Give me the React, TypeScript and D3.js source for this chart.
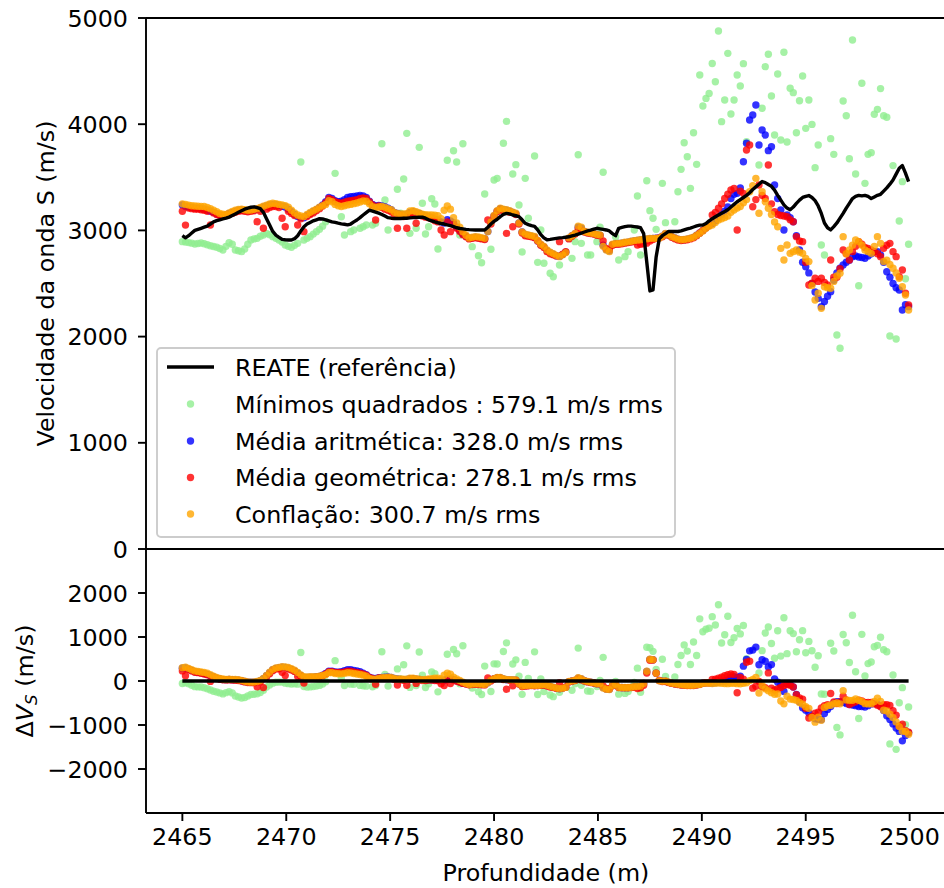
import React from 'react';
import * as d3 from 'd3';

// Logs sampled every 0.15 m from 2465 m
const depthStart = 2465;
const depthStep = 0.15;

// Reference S-wave velocity (REATE), m/s
const reate: number[] = [
  2950, 2930, 2950, 2975, 3000, 3010, 3020, 3030, 3040, 3060,
  3080, 3092, 3100, 3108, 3115, 3125, 3140, 3155, 3170, 3185,
  3200, 3210, 3218, 3222, 3215, 3205, 3170, 3110, 3050, 2990,
  2955, 2935, 2915, 2912, 2910, 2910, 2922, 2950, 2995, 3035,
  3060, 3075, 3090, 3100, 3110, 3108, 3100, 3090, 3080, 3075,
  3068, 3062, 3058, 3052, 3060, 3080, 3098, 3120, 3145, 3168,
  3190, 3182, 3172, 3162, 3150, 3135, 3120, 3115, 3112, 3112,
  3112, 3114, 3115, 3118, 3120, 3122, 3124, 3125, 3115, 3100,
  3090, 3080, 3072, 3065, 3060, 3052, 3045, 3035, 3025, 3018,
  3014, 3010, 3007, 3005, 3004, 3004, 3004, 3004, 3030, 3060,
  3085, 3105, 3130, 3150, 3160, 3155, 3145, 3138, 3130, 3100,
  3067, 3055, 3045, 3038, 3005, 2960, 2930, 2912, 2915, 2920,
  2925, 2930, 2932, 2936, 2940, 2948, 2955, 2965, 2975, 2985,
  2995, 3003, 3012, 3020, 3015, 3010, 3004, 2995, 2970, 2950,
  3020, 3028, 3035, 3040, 3040, 3036, 3032, 3025, 2970, 2700,
  2430, 2440, 2750, 2920, 2950, 2970, 2990, 2990, 2990, 2990,
  2995, 3005, 3015, 3022, 3032, 3042, 3050, 3050, 3065, 3090,
  3110, 3128, 3145, 3162, 3178, 3195, 3220, 3245, 3270, 3290,
  3310, 3330, 3355, 3385, 3410, 3435, 3460, 3450, 3432, 3415,
  3380, 3330, 3285, 3240, 3210, 3195, 3220, 3255, 3285, 3310,
  3320, 3328, 3310, 3280, 3230, 3160, 3070, 3025, 3005, 3035,
  3070, 3115, 3160, 3210, 3255, 3300, 3320, 3330, 3325, 3330,
  3320, 3300, 3315, 3330, 3340, 3370, 3400, 3435, 3475, 3530,
  3585, 3610, 3540, 3460,
];

// Least-squares estimate (null where no estimate is plotted)
const minimosQuadrados: (number | null)[] = [
  2894, 2890, 2885, 2880, 2872, 2876, 2882, 2875, 2865, 2855,
  2848, 2841, 2830, 2815, 2850, 2884, 2870, 2815, 2808, 2800,
  2825, 2870, 2910, 2920, 2925, 2945, 2957, 2972, 2960, 2941,
  2925, 2910, 2890, 2863, 2850, 2841, 2860, 2878, 3644, 2910,
  2925, 2941, 2965, 2988, 3010, 3040, 3082, null, null, 3537,
  null, 3129, 2957, null, 2988, 3004, null, 3020, 3035, 3051,
  null, 3051, 3067, null, 3816, 3286, 3004, null, null, 3387,
  3161, 3484, 3914, 2972, null, 3020, 3782, 3255, 2966, 3035,
  3298, 3248, 2825, null, null, 3660, null, 3750, 3644, 2957,
  3816, null, null, 2847, null, 2762, 2696, 3343, null, 2822,
  3475, 3490, null, 3820, 4027, null, 3531, 3619, 3239, 2797,
  3490, 3114, null, 3700, 2699, 3004, 2690, null, 2596, 2564,
  null, 2674, null, null, null, 2737, 2894, 3713, 2878, null,
  2768, 2768, null, 2894, 3029, 3547, null, null, null, 2941,
  2721, null, 2753, 2800, null, 3004, 3324, 2768, null, 3468,
  3186, 3114, 3010, null, 3443, 3073, null, null, 3082, 3364,
  3575, 3826, 3694, 3396, 3920, 3622, 4463, 4171, 4243, 4290,
  4572, 4400, 4877, 4024, 4228, 4667, 4096, 4228, 4463, 4360,
  4570, 3835, null, null, null, 3616, 4150, 4542, 4658, 4266,
  3898, 4473, 3851, 4677, 3832, 4338, 4297, 3920, 4221, 4454,
  3961, 4228, 3998, 3591, 3804, 2863, 2768, null, 3864, 3716,
  2015, 1890, 4218, 4080, 3675, 4793, 3531, 2479, 4385, 3443,
  3716, 3732, 4093, 4140, 4335, 4080, 4065, 2006, 3610, 1977,
  3089, 3459, 2545, 2869,
];

// Arithmetic mean estimate
const mediaAritmetica: number[] = [
  3240, 3225, 3220, 3215, 3210, 3210, 3205, 3200, 3190, 3180,
  3170, 3155, 3145, 3140, 3145, 3160, 3170, 3180, 3190, 3192,
  3188, 3185, 3188, 3192, 3200, 3210, 3220, 3230, 3240, 3245,
  3242, 3235, 3228, 3220, 3200, 3175, 3150, 3130, 3120, 3118,
  3140, 3160, 3178, 3195, 3215, 3240, 3270, 3310, 3300, 3280,
  3270, 3275, 3290, 3310, 3318, 3320, 3325, 3330, 3325, 3310,
  3275, 3245, 3230, 3235, 3230, 3222, 3210, 3195, 3170, 3160,
  3150, 3145, 3150, 3170, 3175, 3165, 3160, 3145, 3135, 3130,
  3120, 3105, 3095, 3080, 3070, 3100, 3090, 3070, 3030, 3000,
  2965, 2945, 2925, 2930, 2935, 2930, 2925, 2922, 2990, 3080,
  3135, 3180, 3205, 3195, 3190, 3180, 3168, 3155, 3070, 2985,
  2960, 2952, 2945, 2935, 2900, 2865, 2845, 2810, 2790, 2775,
  2762, 2755, 2772, 2795, 2925, 2950, 2970, 3030, 3020, 2990,
  2980, 2973, 2968, 2960, 2955, 2860, 2820, 2808, 2866, 2875,
  2876, 2880, 2885, 2890, 2895, 2900, 2905, 2910, 2914, 2918,
  2922, 2924, 2926, 2930, 2945, 2968, 2958, 2940, 2928, 2916,
  2910, 2912, 2918, 2925, 2934, 2955, 2975, 3000, 3025, 3048,
  3065, 3090, 3120, 3150, 3180, 3220, 3300, 3340, 3349, 3400,
  3647, 3820, 4040, 4087, 4181, 3804, 3945, 3898, 3751, 3788,
  3427, 3300, 3192, 3004, 3145, 3120, 3082, 2950, 2815, 2700,
  2658, 2600, 2500, 2420, 2360, 2282, 2330, 2380, 2423, 2530,
  2600, 2643, 2674, 2700, 2720, 2753, 2760, 2750, 2745, 2737,
  2760, 2780, 2800, 2800, 2770, 2700, 2611, 2560, 2500, 2460,
  2439, 2250, 2300, 2282,
];

// Geometric mean estimate
const mediaGeometrica: number[] = [
  3180, 3050, 3210, 3205, 3200, 3200, 3195, 3190, 3180, 3051,
  3165, 3150, 3140, 3135, 3140, 3150, 3160, 3170, 3180, 3185,
  3180, 3175, 3180, 3185, 3082, 3180, 3020, 3200, 3215, 3225,
  3225, 3215, 3114, 3035, 3180, 3160, 3140, 3051, 3110, 2988,
  3130, 3150, 3165, 3185, 3205, 3230, 3260, 3300, 3290, 3270,
  3260, 3255, 3265, 3275, 3280, 3285, 3290, 3300, 3305, 3300,
  3270, 3240, 3098, 3230, 3215, 3200, 3190, 3175, 3150, 3020,
  3140, 3130, 3020, 3150, 3160, 3067, 3150, 3135, 3125, 3120,
  3110, 3090, 3080, 3004, 2957, 3080, 2988, 3060, 3020, 2990,
  2960, 2940, 2920, 2925, 2930, 2925, 2920, 2915, 3098, 3060,
  3130, 3175, 3195, 3185, 2972, 3170, 3035, 3150, 3060, 2975,
  2950, 2945, 2940, 2930, 2900, 2860, 2840, 2800, 2780, 2770,
  2760, 2894, 2775, 2800, 2920, 2945, 2965, 3010, 3000, 2985,
  2975, 2970, 2965, 2955, 2950, 2900, 2830, 2820, 2860, 2870,
  2870, 2875, 2880, 2885, 2890, 2895, 2863, 2870, 2875, 2880,
  2900, 2915, 2925, 2930, 2940, 2960, 2955, 2935, 2922, 2910,
  2905, 2908, 2912, 2920, 2930, 2950, 2975, 3000, 3025, 3050,
  3145, 3170, 3208, 3250, 3300, 3340, 3380, 3396, 3004, 3370,
  3349, 3757, 3804, 3223, 3290, 3427, 3330, 3300, 3616, 3250,
  3176, 3150, 3140, 3135, 3129, 3100, 3082, 2941, 2900, 2894,
  2700, 2486, 2502, 2549, 2520, 2549, 2510, 2486, 2721, 2560,
  2558, 2640, 2815, 2780, 2721, 2800, 2850, 2894, 2870, 2840,
  2830, 2815, 2800, 2780, 2753, 2831, 2860, 2878, 2800, 2753,
  2564, 2627, 2408, 2298,
];

// Conflation estimate
const conflacao: number[] = [
  3250, 3245, 3238, 3232, 3230, 3228, 3226, 3225, 3215, 3205,
  3190, 3175, 3160, 3152, 3150, 3165, 3178, 3190, 3198, 3200,
  3195, 3190, 3192, 3198, 3205, 3215, 3228, 3238, 3248, 3255,
  3252, 3245, 3240, 3232, 3218, 3190, 3165, 3145, 3135, 3130,
  3150, 3170, 3185, 3200, 3218, 3232, 3245, 3280, 3270, 3245,
  3232, 3225, 3232, 3240, 3245, 3252, 3258, 3268, 3278, 3275,
  3250, 3222, 3215, 3220, 3225, 3218, 3205, 3195, 3170, 3160,
  3156, 3155, 3158, 3182, 3185, 3176, 3165, 3152, 3148, 3146,
  3145, 3142, 3138, 3110, 3190, 3230, 3200, 3120, 3070, 3030,
  2988, 2955, 2928, 2935, 2941, 2938, 2932, 2925, 2990, 3080,
  3140, 3185, 3208, 3200, 3195, 3185, 3172, 3161, 3070, 2985,
  2965, 2957, 2950, 2942, 2905, 2870, 2850, 2815, 2795, 2780,
  2765, 2753, 2770, 2790, 2930, 2950, 2972, 3040, 3030, 2990,
  2982, 2975, 2970, 2962, 2957, 2850, 2815, 2800, 2870, 2878,
  2878, 2882, 2888, 2892, 2898, 2904, 2908, 2912, 2916, 2920,
  2925, 2925, 2925, 2926, 2945, 2972, 2960, 2941, 2930, 2918,
  2912, 2915, 2920, 2926, 2935, 2955, 2972, 2995, 3020, 3040,
  3051, 3075, 3098, 3110, 3122, 3135, 3170, 3192, 3210, 3225,
  3260, 3290, 3364, 3420, 3490, 3161, 3364, 3270, 3208, 3150,
  3080, 3035, 2831, 2721, 2863, 2784, 2800, 2815, 2795, 2784,
  2736, 2706, 2480, 2345, 2408, 2266, 2470, 2460, 2455, 2520,
  2570, 2596, 2941, 2780, 2815, 2860, 2910, 2894, 2860, 2815,
  2800, 2784, 2850, 2941, 2878, 2706, 2720, 2680, 2643, 2600,
  2549, 2470, 2392, 2250,
];

const depthTicks = [2465, 2470, 2475, 2480, 2485, 2490, 2495, 2500];
const velocityTicks = [0, 1000, 2000, 3000, 4000, 5000];
const deltaTicks = [-2000, -1000, 0, 1000, 2000];

const referenceLabel = 'REATE (referência)';
const estimateLabels = [
  'Mínimos quadrados : 579.1 m/s rms',
  'Média aritmética: 328.0 m/s rms',
  'Média geométrica: 278.1 m/s rms',
  'Conflação: 300.7 m/s rms',
];
const estimateColors = ['#90ee90', '#0000ff', '#ff0000', '#ffa500'];

const FONT = '"DejaVu Sans", sans-serif';
const FS = 23.8;
const DOT_R = 3.7;
const DOT_OPACITY = 0.8;

const fmt = (v: number) => (v < 0 ? '\u2212' + Math.abs(v) : String(v));

export default function App() {
  const W = 944;
  const H = 888;
  const left = 146;
  const right = 946;
  const topA = 18;
  const midA = 549;
  const botA = 813;

  const depths = reate.map((_, i) => depthStart + i * depthStep);
  const x = d3.scaleLinear().domain([2463.25, 2501.75]).range([left, right]);
  const yV = d3.scaleLinear().domain([0, 5000]).range([midA, topA]);
  const yD = d3.scaleLinear().domain([-3000, 3000]).range([botA, midA]);

  const estimates = [minimosQuadrados, mediaAritmetica, mediaGeometrica, conflacao];

  const lineGen = d3.line<[number, number]>().x((p) => p[0]).y((p) => p[1]);
  const reatePath = lineGen(depths.map((d, i) => [x(d), yV(reate[i])])) || '';
  const zeroPath = lineGen(depths.map((d, i) => [x(d), yD(reate[i] - reate[i])])) || '';

  const spine = { stroke: '#000', strokeWidth: 1.9 };
  const tickLen = 8;

  const legendX = 157;
  const legendY = 348;
  const legendW = 518;
  const legendH = 189;
  const rowY = [367, 404, 441, 477.5, 514];

  return (
    <svg
      width={W}
      height={H}
      viewBox={`0 0 ${W} ${H}`}
      style={{ position: 'absolute', left: 0, top: 0, background: '#fff' }}
      fontFamily={FONT}
    >
      <defs>
        <clipPath id="clip-top">
          <rect x={left} y={topA} width={right - left} height={midA - topA} />
        </clipPath>
        <clipPath id="clip-bottom">
          <rect x={left} y={midA} width={right - left} height={botA - midA} />
        </clipPath>
      </defs>
      <rect x={0} y={0} width={W} height={H} fill="#fff" />

      {/* Velocity panel */}
      <g clipPath="url(#clip-top)">
        {estimates.map((vals, s) => (
          <g key={s} fill={estimateColors[s]} fillOpacity={DOT_OPACITY}>
            {vals.map((v, i) =>
              v == null ? null : <circle key={i} cx={x(depths[i])} cy={yV(v)} r={DOT_R} />
            )}
          </g>
        ))}
        <path d={reatePath} fill="none" stroke="#000" strokeWidth={3.4} strokeLinejoin="round" />
      </g>

      {/* Difference panel */}
      <g clipPath="url(#clip-bottom)">
        {estimates.map((vals, s) => (
          <g key={s} fill={estimateColors[s]} fillOpacity={DOT_OPACITY}>
            {vals.map((v, i) =>
              v == null ? null : (
                <circle key={i} cx={x(depths[i])} cy={yD(v - reate[i])} r={DOT_R} />
              )
            )}
          </g>
        ))}
        <path d={zeroPath} fill="none" stroke="#000" strokeWidth={3.4} />
      </g>

      {/* Spines */}
      <line x1={left} y1={topA} x2={left} y2={botA} {...spine} />
      <line x1={left} y1={topA} x2={right} y2={topA} {...spine} />
      <line x1={left} y1={midA} x2={right} y2={midA} {...spine} />
      <line x1={left} y1={botA} x2={right} y2={botA} {...spine} />
      <line x1={right} y1={topA} x2={right} y2={botA} {...spine} />

      {/* Velocity ticks */}
      {velocityTicks.map((t) => (
        <g key={'v' + t}>
          <line x1={left - tickLen} x2={left} y1={yV(t)} y2={yV(t)} {...spine} />
          <text x={128} y={yV(t) + 8.5} textAnchor="end" fontSize={FS} fill="#000">
            {fmt(t)}
          </text>
        </g>
      ))}

      {/* Difference ticks */}
      {deltaTicks.map((t) => (
        <g key={'d' + t}>
          <line x1={left - tickLen} x2={left} y1={yD(t)} y2={yD(t)} {...spine} />
          <text x={128} y={yD(t) + 8.5} textAnchor="end" fontSize={FS} fill="#000">
            {fmt(t)}
          </text>
        </g>
      ))}

      {/* Depth ticks */}
      {depthTicks.map((t) => (
        <g key={'x' + t}>
          <line x1={x(t)} x2={x(t)} y1={botA} y2={botA + tickLen} {...spine} />
          <text x={x(t)} y={845} textAnchor="middle" fontSize={FS} fill="#000">
            {t}
          </text>
        </g>
      ))}

      {/* Axis labels */}
      <text x={546} y={881} textAnchor="middle" fontSize={FS} fill="#000">
        Profundidade (m)
      </text>
      <text
        transform={`translate(54, ${(topA + midA) / 2}) rotate(-90)`}
        textAnchor="middle"
        fontSize={FS}
        fill="#000"
      >
        Velocidade da onda S (m/s)
      </text>
      <text
        transform={`translate(33, ${yD(0)}) rotate(-90)`}
        textAnchor="middle"
        fontSize={FS}
        fill="#000"
      >
        <tspan>Δ</tspan>
        <tspan fontStyle="italic">V</tspan>
        <tspan fontStyle="italic" fontSize={FS * 0.7} dy={4}>
          S
        </tspan>
        <tspan dy={-4}> (m/s)</tspan>
      </text>

      {/* Legend */}
      <g>
        <rect
          x={legendX}
          y={legendY}
          width={legendW}
          height={legendH}
          rx={4}
          fill="#fff"
          fillOpacity={0.8}
          stroke="#cccccc"
          strokeWidth={1.9}
        />
        <line x1={167} x2={214} y1={rowY[0]} y2={rowY[0]} stroke="#000" strokeWidth={3.4} />
        <text x={235} y={rowY[0] + 8.5} fontSize={FS} fill="#000">
          {referenceLabel}
        </text>
        {estimateLabels.map((lab, s) => (
          <g key={lab}>
            <circle
              cx={190.5}
              cy={rowY[s + 1]}
              r={DOT_R}
              fill={estimateColors[s]}
              fillOpacity={DOT_OPACITY}
            />
            <text x={235} y={rowY[s + 1] + 8.5} fontSize={FS} fill="#000">
              {lab}
            </text>
          </g>
        ))}
      </g>
    </svg>
  );
}
